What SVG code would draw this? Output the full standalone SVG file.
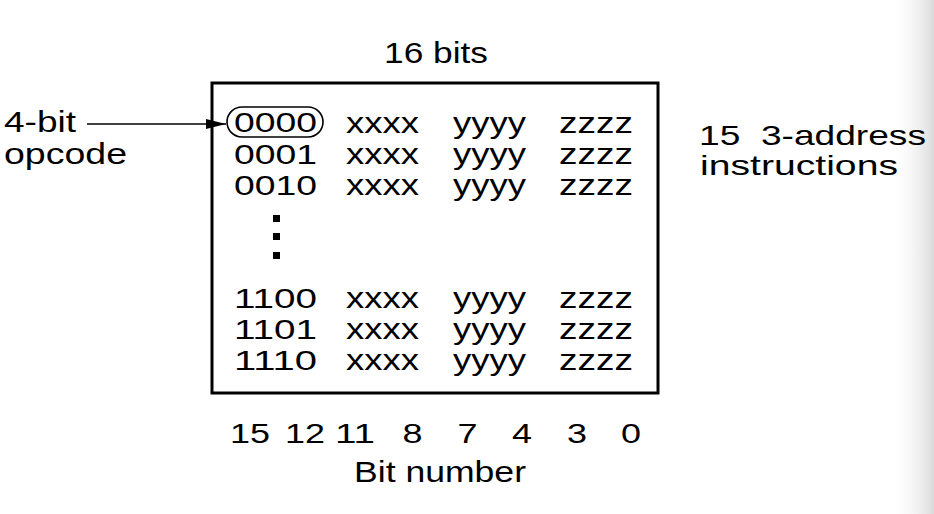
<svg xmlns="http://www.w3.org/2000/svg" width="934" height="514" viewBox="0 0 934 514">
  <defs>
    <linearGradient id="edge" x1="0" y1="0" x2="1" y2="0">
      <stop offset="0" stop-color="#ffffff" stop-opacity="0"/>
      <stop offset="1" stop-color="#dadada"/>
    </linearGradient>
    <marker id="arr" markerWidth="20" markerHeight="10" refX="20" refY="5" orient="auto" markerUnits="userSpaceOnUse">
      <path d="M0,0 L20,5 L0,10 Z" fill="#000"/>
    </marker>
  </defs>
  <style>
    text { font-family: "Liberation Sans", Arial, sans-serif; fill: #000; }
    .t { font-size: 29px; }
    .r { font-size: 28px; }
    .d { font-size: 28px; }
    .l { font-size: 30px; }
  </style>
  <rect x="0" y="0" width="934" height="514" fill="#fff"/>
  <rect x="890" y="0" width="44" height="514" fill="url(#edge)"/>

  <g id="word-box">
    <rect x="212" y="83" width="446" height="310" fill="none" stroke="#000" stroke-width="3"/>
  </g>

  <g id="title">
    <text class="t" x="436" y="63" text-anchor="middle" textLength="104" lengthAdjust="spacingAndGlyphs">16 bits</text>
  </g>

  <g id="opcode-label">
    <text class="t" x="4" y="132" textLength="72" lengthAdjust="spacingAndGlyphs">4-bit</text>
    <text class="t" x="4" y="164" textLength="123" lengthAdjust="spacingAndGlyphs">opcode</text>
  </g>

  <g id="opcode-oval">
    <rect x="227" y="107" width="96" height="30" rx="15" ry="15" fill="none" stroke="#000" stroke-width="1.6"/>
  </g>

  <g id="rows">
    <text class="d" x="234" y="132" textLength="83" lengthAdjust="spacingAndGlyphs">0000</text>
    <text class="l" x="346" y="133" textLength="73" lengthAdjust="spacingAndGlyphs">xxxx</text>
    <text class="l" x="453" y="133" textLength="73" lengthAdjust="spacingAndGlyphs">yyyy</text>
    <text class="l" x="559" y="133" textLength="74" lengthAdjust="spacingAndGlyphs">zzzz</text>

    <text class="d" x="234" y="164" textLength="83" lengthAdjust="spacingAndGlyphs">0001</text>
    <text class="l" x="346" y="164" textLength="73" lengthAdjust="spacingAndGlyphs">xxxx</text>
    <text class="l" x="453" y="164" textLength="73" lengthAdjust="spacingAndGlyphs">yyyy</text>
    <text class="l" x="559" y="164" textLength="74" lengthAdjust="spacingAndGlyphs">zzzz</text>

    <text class="d" x="234" y="195" textLength="83" lengthAdjust="spacingAndGlyphs">0010</text>
    <text class="l" x="346" y="195" textLength="73" lengthAdjust="spacingAndGlyphs">xxxx</text>
    <text class="l" x="453" y="195" textLength="73" lengthAdjust="spacingAndGlyphs">yyyy</text>
    <text class="l" x="559" y="195" textLength="74" lengthAdjust="spacingAndGlyphs">zzzz</text>

    <rect x="273" y="215" width="7" height="7" fill="#000"/>
    <rect x="273" y="233" width="7" height="7" fill="#000"/>
    <rect x="273" y="252" width="7" height="7" fill="#000"/>

    <text class="d" x="234" y="308" textLength="83" lengthAdjust="spacingAndGlyphs">1100</text>
    <text class="l" x="346" y="308" textLength="73" lengthAdjust="spacingAndGlyphs">xxxx</text>
    <text class="l" x="453" y="308" textLength="73" lengthAdjust="spacingAndGlyphs">yyyy</text>
    <text class="l" x="559" y="308" textLength="74" lengthAdjust="spacingAndGlyphs">zzzz</text>

    <text class="d" x="234" y="339" textLength="83" lengthAdjust="spacingAndGlyphs">1101</text>
    <text class="l" x="346" y="339" textLength="73" lengthAdjust="spacingAndGlyphs">xxxx</text>
    <text class="l" x="453" y="339" textLength="73" lengthAdjust="spacingAndGlyphs">yyyy</text>
    <text class="l" x="559" y="339" textLength="74" lengthAdjust="spacingAndGlyphs">zzzz</text>

    <text class="d" x="234" y="370" textLength="83" lengthAdjust="spacingAndGlyphs">1110</text>
    <text class="l" x="346" y="370" textLength="73" lengthAdjust="spacingAndGlyphs">xxxx</text>
    <text class="l" x="453" y="370" textLength="73" lengthAdjust="spacingAndGlyphs">yyyy</text>
    <text class="l" x="559" y="370" textLength="74" lengthAdjust="spacingAndGlyphs">zzzz</text>
  </g>

  <g id="count-label">
    <text class="r" x="699" y="145" xml:space="preserve" textLength="227" lengthAdjust="spacingAndGlyphs">15  3-address</text>
    <text class="r" x="700" y="175" textLength="198" lengthAdjust="spacingAndGlyphs">instructions</text>
  </g>

  <g id="bit-numbers">
    <text class="d" x="250" y="443" text-anchor="middle" textLength="40" lengthAdjust="spacingAndGlyphs">15</text>
    <text class="d" x="305" y="443" text-anchor="middle" textLength="40" lengthAdjust="spacingAndGlyphs">12</text>
    <text class="d" x="355" y="443" text-anchor="middle" textLength="40" lengthAdjust="spacingAndGlyphs">11</text>
    <text class="d" x="412.5" y="443" text-anchor="middle" textLength="20" lengthAdjust="spacingAndGlyphs">8</text>
    <text class="d" x="467.5" y="443" text-anchor="middle" textLength="20" lengthAdjust="spacingAndGlyphs">7</text>
    <text class="d" x="522" y="443" text-anchor="middle" textLength="20" lengthAdjust="spacingAndGlyphs">4</text>
    <text class="d" x="577" y="443" text-anchor="middle" textLength="20" lengthAdjust="spacingAndGlyphs">3</text>
    <text class="d" x="631" y="443" text-anchor="middle" textLength="20" lengthAdjust="spacingAndGlyphs">0</text>
  </g>

  <g id="axis-label">
    <text class="t" x="440" y="482" text-anchor="middle" textLength="172" lengthAdjust="spacingAndGlyphs">Bit number</text>
  </g>

  <g id="connectors">
    <line x1="87" y1="124" x2="226" y2="124" stroke="#000" stroke-width="1.6" marker-end="url(#arr)"/>
  </g>
</svg>
